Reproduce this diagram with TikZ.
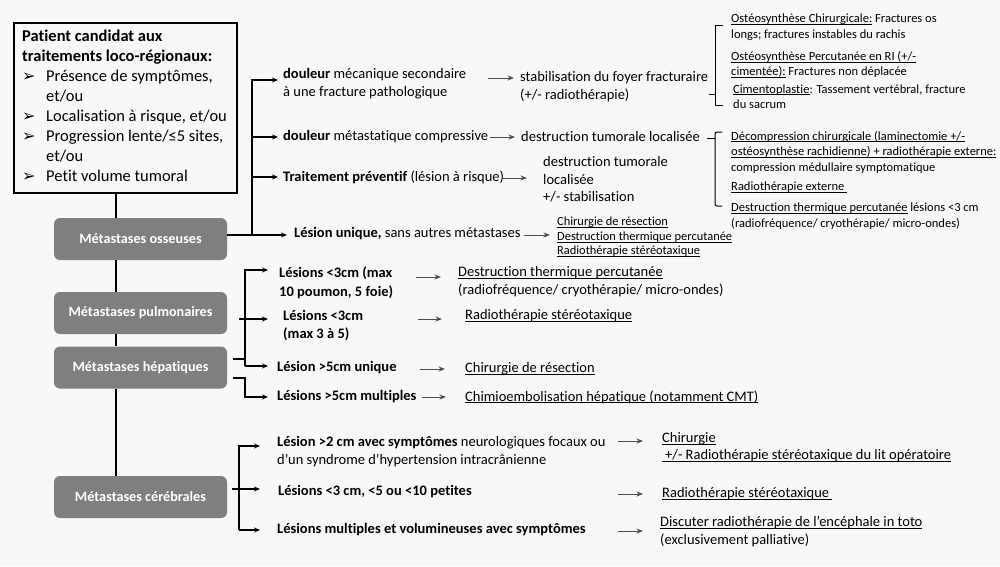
\documentclass[tikz,border=0pt]{standalone}
\usepackage{fontspec}
\setmainfont{Carlito}[Ligatures={NoCommon,NoContextual}]
\newfontfamily\djv{DejaVu Sans}
\usetikzlibrary{arrows.meta}
\definecolor{bg}{HTML}{F7F8F8}
\definecolor{boxgray}{HTML}{7F7F7F}
\definecolor{arrgray}{HTML}{4D4D4D}
\newcommand{\bul}{\makebox[24pt][l]{\raisebox{-0.5pt}{\djv\fontsize{16}{16}\selectfont ➢}}}
\newcommand{\ind}{\hspace*{24pt}}
\newcommand{\ul}[1]{\underline{\smash{#1}}\vphantom{#1}}
\begin{document}
\begin{tikzpicture}[x=1pt,y=-1pt,
 txt/.style={anchor=west,align=left,inner sep=0pt,font=\fontsize{14.5}{17.5}\selectfont},
 sml/.style={anchor=west,align=left,inner sep=0pt,font=\fontsize{12.5}{15.5}\selectfont},
 metbox/.style={rounded corners=6pt,fill=boxgray,text=white,font=\bfseries\fontsize{14.2}{16}\selectfont,minimum width=173pt,minimum height=42pt,inner sep=0pt},
 br/.style={line width=1.4pt,black},
 brarrow/.style={br,-{Stealth[length=6pt,width=5pt]}},
 garrow/.style={line width=0.9pt,arrgray,-{Stealth[length=6.5pt,width=5pt]}},
 brace/.style={line width=1pt,black}]
\fill[bg] (0,0) rectangle (1000,566);
\useasboundingbox (0,0) rectangle (1000,566);

% criteria box
\node[draw,line width=2.5pt,minimum width=223pt,minimum height=170pt,inner sep=0pt] (crit) at (125.5,108) {};
\node[anchor=north west,align=left,inner sep=0pt,font=\fontsize{16.5}{20}\selectfont] (crittxt) at (22,29.5) {%
\textbf{Patient candidat aux}\\
\textbf{traitements loco-régionaux:}\\
\bul Présence de symptômes,\\
\ind et/ou\\
\bul Localisation à risque, et/ou\\
\bul Progression lente/≤5 sites,\\
\ind et/ou\\
\bul Petit volume tumoral};

% grey boxes
\node[metbox] (oss) at (140.5,239) {Métastases osseuses};
\node[metbox] (pul) at (140.5,313) {Métastases pulmonaires};
\node[metbox] (hep) at (140.5,367.5) {Métastases hépatiques};
\node[metbox] (cer) at (140.5,497) {Métastases cérébrales};

% trunk
\coordinate (tx) at (116,0);
\draw[line width=1.2pt] (crit.south -| tx) -- (oss.north -| tx);
\draw[line width=1.2pt] (oss.south -| tx) -- (pul.north -| tx);
\draw[line width=1.2pt] (pul.south -| tx) -- (hep.north -| tx);
\draw[line width=1.2pt] (hep.south -| tx) -- (cer.north -| tx);

% ---------- bone ----------
\node[txt] (r1) at (283,83.5) {\textbf{douleur} mécanique secondaire\\à une fracture pathologique};
\node[txt] (r2) at (283,137) {\textbf{douleur} métastatique compressive};
\node[txt] (r3) at (283,177) {\textbf{Traitement préventif} (lésion à risque)};
\node[txt] (r4) at (294,234) {\textbf{Lésion unique,} sans autres métastases};

\coordinate (bo) at (252,235);
\draw[br] ([yshift=4pt]oss.east) -- (bo);
\draw[brarrow] (bo) |- ([xshift=-5pt,yshift=3.5pt]r1.west);
\draw[brarrow] (bo) |- ([xshift=-5pt]r2.west);
\draw[brarrow] (bo) |- ([xshift=-5pt]r3.west);
\draw[brarrow] (bo) -- ([xshift=-7pt,yshift=-1pt]r4.west);

\node[txt,font=\fontsize{14.5}{18}\selectfont] (s1) at (520,87) {stabilisation du foyer fracturaire\\(+/- radiothérapie)};
\node[txt] (s2) at (521,137) {destruction tumorale localisée};
\node[txt] (s3) at (543,179.5) {destruction tumorale\\localisée\\+/- stabilisation};
\node[sml,font=\fontsize{12.4}{14.5}\selectfont] (s4) at (557,237) {\ul{Chirurgie de résection}\\\ul{Destruction thermique percutanée}\\\ul{Radiothérapie stéréotaxique}};

\draw[garrow] ([xshift=-32pt,yshift=9pt]s1.west) -- ([xshift=-6pt,yshift=9pt]s1.west);
\draw[garrow] ([xshift=-31pt]s2.west) -- ([xshift=-6pt]s2.west);
\draw[garrow] ([xshift=-41pt,yshift=1.5pt]s3.west) -- ([xshift=-16pt,yshift=1.5pt]s3.west);
\draw[garrow] ([xshift=-33pt,yshift=2pt]s4.west) -- ([xshift=-7pt,yshift=2pt]s4.west);

% bracket 1
\draw[brace] (709,94) -- (715,94);
\draw[brace] (723,25) -- (715,25) -- (715,105) -- (723,105);
\node[sml] (o1) at (731,27) {\ul{Ostéosynthèse Chirurgicale:} Fractures os\\longs; fractures instables du rachis};
\node[sml] (o2) at (731,64.5) {\ul{Ostéosynthèse Percutanée en RI (+/-}\\\ul{cimentée):} Fractures non déplacée};
\node[sml] (o3) at (733,96.5) {\ul{Cimentoplastie}: Tassement vertébral, fracture\\du sacrum};

% bracket 2
\draw[brace] (707,138) -- (715,138);
\draw[brace,rounded corners=2pt] (722,132) -- (715,132) -- (715,206) -- (722,206);
\node[sml] (d1) at (731,152) {\ul{Décompression chirurgicale (laminectomie +/-}\\\ul{ostéosynthèse rachidienne) + radiothérapie externe:}\\compression médullaire symptomatique};
\node[sml] (d2) at (731,187) {\ul{Radiothérapie externe\ }};
\node[sml] (d3) at (731,216) {\ul{Destruction thermique percutanée} lésions <3 cm\\(radiofréquence/ cryothérapie/ micro-ondes)};

% ---------- lung / liver ----------
\node[txt,font=\bfseries\fontsize{14.5}{19}\selectfont] (p1) at (279,283) {Lésions <3cm (max\\10 poumon, 5 foie)};
\node[txt,font=\bfseries\fontsize{14.5}{17.5}\selectfont] (p2) at (283,325.5) {Lésions <3cm\\(max 3 à 5)};
\node[txt,font=\bfseries\fontsize{14.5}{17.5}\selectfont] (p3) at (277,367.5) {Lésion >5cm unique};
\node[txt,font=\bfseries\fontsize{14.5}{17.5}\selectfont] (p4) at (277,397) {Lésions >5cm multiples};

\coordinate (bh) at (245,366);
\coordinate (bh4) at (245,397);
\draw[brarrow] (bh) |- ([xshift=-11pt,yshift=13pt]p1.west);
\draw[brarrow] ([xshift=12pt,yshift=-6pt]pul.east) -- ([xshift=-15pt,yshift=6.5pt]p2.west);
\draw[br] ([xshift=6pt,yshift=8.5pt]hep.east) -| (bh);
\draw[brarrow] (bh) |- ([xshift=-9pt,yshift=1.5pt]p3.west);
\draw[brarrow] ([xshift=6pt,yshift=-10.5pt]hep.east) -| (bh4) -- ([xshift=-9pt]p4.west);

\node[txt,font=\fontsize{14.5}{18}\selectfont] (q1) at (458,282) {\ul{Destruction thermique percutanée}\\(radiofréquence/ cryothérapie/ micro-ondes)};
\node[txt] (q2) at (465,316) {\ul{Radiothérapie stéréotaxique}};
\node[txt] (q3) at (465,369) {\ul{Chirurgie de résection}};
\node[txt] (q4) at (465,397) {\ul{Chimioembolisation hépatique (notamment CMT)}};

\draw[garrow] ([xshift=-42pt,yshift=5pt]q1.west) -- ([xshift=-17pt,yshift=5pt]q1.west);
\draw[garrow] ([xshift=-47pt,yshift=-3pt]q2.west) -- ([xshift=-23pt,yshift=-3pt]q2.west);
\draw[garrow] ([xshift=-45pt]q3.west) -- ([xshift=-20pt]q3.west);
\draw[garrow] ([xshift=-43pt]q4.west) -- ([xshift=-19pt]q4.west);

% ---------- brain ----------
\node[txt,font=\fontsize{14.5}{18}\selectfont] (c1) at (277,452) {\textbf{Lésion >2 cm avec symptômes} neurologiques focaux ou\\d’un syndrome d’hypertension intracrânienne};
\node[txt,font=\bfseries\fontsize{14.5}{17.5}\selectfont] (c2) at (278,492) {Lésions <3 cm, <5 ou <10 petites};
\node[txt,font=\bfseries\fontsize{14.5}{17.5}\selectfont] (c3) at (277,530) {Lésions multiples et volumineuses avec symptômes};

\coordinate (bc) at (239,530);
\draw[brarrow] (bc) |- ([xshift=-17pt,yshift=6pt]c1.west);
\draw[brarrow] ([xshift=5pt,yshift=8pt]cer.east) -- ([xshift=-18pt,yshift=3pt]c2.west);
\draw[brarrow] (bc) -- ([xshift=-17pt]c3.west);

\node[txt,font=\fontsize{14.5}{17}\selectfont] (e1) at (662,447.5) {\ul{Chirurgie}\\\ul{\hspace*{3pt}+/- Radiothérapie stéréotaxique du lit opératoire}};
\node[txt] (e2) at (662,494) {\ul{Radiothérapie stéréotaxique\ }};
\node[txt,font=\fontsize{14.5}{18}\selectfont] (e3) at (660,532) {\ul{Discuter radiothérapie de l’encéphale in toto}\\(exclusivement palliative)};

\draw[garrow] ([xshift=-44pt,yshift=6.5pt]e1.west) -- ([xshift=-19pt,yshift=6.5pt]e1.west);
\draw[garrow] ([xshift=-44pt]e2.west) -- ([xshift=-19pt]e2.west);
\draw[garrow] ([xshift=-42pt,yshift=1pt]e3.west) -- ([xshift=-17pt,yshift=1pt]e3.west);
\end{tikzpicture}
\end{document}
